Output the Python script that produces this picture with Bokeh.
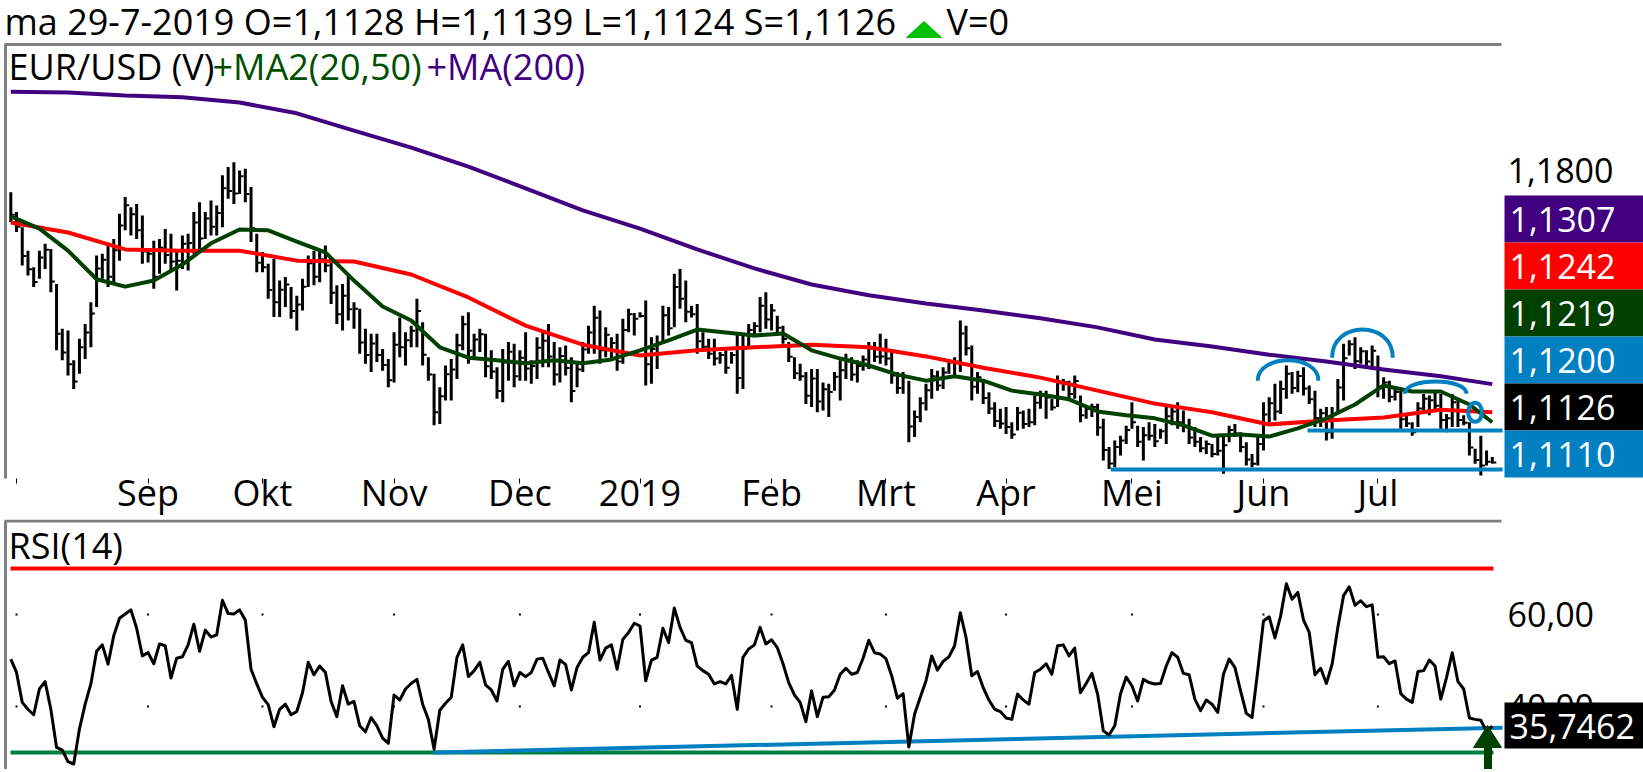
import pandas as pd
from bokeh.plotting import figure
from bokeh.layouts import column
from bokeh.models import Range1d, FixedTicker, ColumnDataSource
from bokeh.core.properties import value
from bokeh.embed import file_html
from bokeh.resources import INLINE

# ---------------- data ----------------
dates = pd.bdate_range("2018-07-31", "2019-07-29")   # 260 trading days (x axis)

high = [1.1750,1.1704,1.1669,1.1615,1.1577,1.1615,1.1631,1.1619,1.1538,1.1435,
        1.1431,1.1362,1.1412,1.1446,1.1496,1.1604,1.1608,1.1627,1.1642,1.1700,
        1.1739,1.1715,1.1723,1.1696,1.1615,1.1638,1.1642,1.1665,1.1654,1.1615,
        1.1650,1.1654,1.1704,1.1727,1.1704,1.1731,1.1719,1.1789,1.1808,1.1819,
        1.1800,1.1804,1.1762,1.1654,1.1612,1.1585,1.1596,1.1546,1.1554,1.1531,
        1.1511,1.1550,1.1604,1.1615,1.1612,1.1627,1.1596,1.1535,1.1538,1.1558,
        1.1496,1.1481,1.1435,1.1423,1.1423,1.1388,1.1365,1.1427,1.1461,1.1427,
        1.1442,1.1504,1.1450,1.1369,1.1331,1.1300,1.1350,1.1365,1.1423,1.1465,
        1.1473,1.1423,1.1435,1.1423,1.1385,1.1346,1.1388,1.1404,1.1400,1.1385,
        1.1427,1.1362,1.1415,1.1427,1.1446,1.1404,1.1392,1.1396,1.1369,1.1354,
        1.1404,1.1442,1.1488,1.1477,1.1438,1.1415,1.1423,1.1458,1.1481,1.1471,
        1.1473,1.1500,1.1415,1.1419,1.1488,1.1485,1.1562,1.1573,1.1546,1.1488,
        1.1492,1.1427,1.1412,1.1412,1.1381,1.1385,1.1381,1.1427,1.1419,1.1446,
        1.1450,1.1508,1.1519,1.1492,1.1465,1.1442,1.1404,1.1369,1.1354,1.1335,
        1.1342,1.1342,1.1311,1.1308,1.1335,1.1362,1.1377,1.1369,1.1362,1.1373,
        1.1404,1.1404,1.1423,1.1412,1.1385,1.1335,1.1335,1.1315,1.1246,1.1277,
        1.1308,1.1342,1.1338,1.1346,1.1365,1.1369,1.1454,1.1442,1.1396,1.1335,
        1.1315,1.1288,1.1265,1.1250,1.1254,1.1219,1.1254,1.1246,1.1250,1.1281,
        1.1292,1.1292,1.1273,1.1327,1.1319,1.1315,1.1327,1.1281,1.1258,1.1262,
        1.1262,1.1227,1.1162,1.1177,1.1188,1.1211,1.1265,1.1211,1.1208,1.1219,
        1.1215,1.1204,1.1254,1.1254,1.1265,1.1246,1.1227,1.1208,1.1185,1.1177,
        1.1169,1.1185,1.1188,1.1211,1.1215,1.1196,1.1173,1.1146,1.1185,1.1265,
        1.1277,1.1308,1.1315,1.1350,1.1335,1.1338,1.1346,1.1304,1.1292,1.1250,
        1.1254,1.1254,1.1319,1.1400,1.1408,1.1415,1.1392,1.1385,1.1396,1.1373,
        1.1323,1.1315,1.1296,1.1292,1.1238,1.1219,1.1265,1.1284,1.1281,1.1288,
        1.1284,1.1238,1.1284,1.1273,1.1235,1.1219,1.1158,1.1188,1.1154,1.1139]

low = [1.1681,1.1658,1.1581,1.1558,1.1531,1.1550,1.1573,1.1519,1.1385,1.1362,
       1.1327,1.1296,1.1331,1.1365,1.1392,1.1485,1.1550,1.1531,1.1538,1.1592,
       1.1662,1.1650,1.1642,1.1585,1.1588,1.1527,1.1562,1.1585,1.1569,1.1523,
       1.1573,1.1569,1.1608,1.1615,1.1642,1.1650,1.1650,1.1669,1.1735,1.1723,
       1.1746,1.1727,1.1635,1.1565,1.1565,1.1504,1.1462,1.1462,1.1485,1.1458,
       1.1431,1.1477,1.1531,1.1535,1.1542,1.1565,1.1492,1.1446,1.1431,1.1454,
       1.1435,1.1377,1.1354,1.1335,1.1358,1.1338,1.1300,1.1311,1.1369,1.1350,
       1.1392,1.1392,1.1350,1.1315,1.1212,1.1215,1.1269,1.1269,1.1319,1.1385,
       1.1354,1.1369,1.1381,1.1323,1.1319,1.1273,1.1265,1.1315,1.1300,1.1315,
       1.1315,1.1308,1.1319,1.1346,1.1346,1.1304,1.1311,1.1327,1.1265,1.1300,
       1.1335,1.1377,1.1377,1.1354,1.1369,1.1362,1.1338,1.1354,1.1427,1.1419,
       1.1461,1.1304,1.1308,1.1342,1.1400,1.1419,1.1438,1.1481,1.1450,1.1461,
       1.1377,1.1381,1.1365,1.1350,1.1354,1.1331,1.1354,1.1285,1.1296,1.1392,
       1.1415,1.1427,1.1435,1.1431,1.1427,1.1400,1.1358,1.1319,1.1315,1.1261,
       1.1254,1.1242,1.1246,1.1231,1.1292,1.1269,1.1319,1.1315,1.1311,1.1338,
       1.1342,1.1358,1.1354,1.1350,1.1308,1.1285,1.1285,1.1173,1.1185,1.1219,
       1.1246,1.1273,1.1292,1.1296,1.1331,1.1327,1.1335,1.1373,1.1269,1.1285,
       1.1261,1.1238,1.1208,1.1204,1.1192,1.1181,1.1200,1.1204,1.1208,1.1212,
       1.1250,1.1227,1.1246,1.1254,1.1292,1.1273,1.1273,1.1219,1.1227,1.1231,
       1.1188,1.1131,1.1111,1.1115,1.1142,1.1169,1.1204,1.1162,1.1131,1.1177,
       1.1162,1.1181,1.1169,1.1212,1.1204,1.1196,1.1169,1.1162,1.1150,1.1146,
       1.1138,1.1142,1.1100,1.1173,1.1185,1.1150,1.1119,1.1115,1.1119,1.1154,
       1.1219,1.1223,1.1238,1.1273,1.1285,1.1288,1.1281,1.1261,1.1208,1.1208,
       1.1177,1.1181,1.1238,1.1269,1.1373,1.1342,1.1354,1.1350,1.1346,1.1277,
       1.1273,1.1265,1.1269,1.1204,1.1208,1.1188,1.1208,1.1238,1.1235,1.1246,
       1.1204,1.1196,1.1208,1.1208,1.1212,1.1142,1.1123,1.1096,1.1119,1.1124]

close = [1.1698,1.1670,1.1603,1.1572,1.1543,1.1599,1.1617,1.1544,1.1423,1.1380,
         1.1353,1.1313,1.1392,1.1426,1.1470,1.1574,1.1594,1.1555,1.1616,1.1673,
         1.1720,1.1699,1.1662,1.1613,1.1608,1.1555,1.1622,1.1605,1.1590,1.1592,
         1.1631,1.1633,1.1680,1.1643,1.1689,1.1670,1.1702,1.1759,1.1753,1.1747,
         1.1787,1.1746,1.1667,1.1587,1.1577,1.1524,1.1496,1.1525,1.1537,1.1476,
         1.1491,1.1532,1.1586,1.1555,1.1595,1.1581,1.1518,1.1468,1.1511,1.1480,
         1.1481,1.1403,1.1374,1.1401,1.1374,1.1351,1.1316,1.1398,1.1392,1.1408,
         1.1430,1.1476,1.1375,1.1329,1.1242,1.1279,1.1330,1.1341,1.1397,1.1445,
         1.1384,1.1410,1.1422,1.1348,1.1336,1.1291,1.1357,1.1382,1.1325,1.1368,
         1.1343,1.1349,1.1391,1.1407,1.1371,1.1329,1.1372,1.1344,1.1291,1.1341,
         1.1387,1.1426,1.1460,1.1385,1.1421,1.1402,1.1359,1.1432,1.1468,1.1458,
         1.1464,1.1353,1.1388,1.1400,1.1466,1.1436,1.1531,1.1504,1.1474,1.1468,
         1.1406,1.1393,1.1377,1.1366,1.1374,1.1345,1.1374,1.1321,1.1388,1.1432,
         1.1441,1.1488,1.1456,1.1477,1.1437,1.1411,1.1370,1.1332,1.1325,1.1280,
         1.1320,1.1267,1.1295,1.1289,1.1324,1.1339,1.1363,1.1329,1.1349,1.1364,
         1.1389,1.1370,1.1371,1.1366,1.1327,1.1298,1.1323,1.1209,1.1231,1.1263,
         1.1293,1.1325,1.1304,1.1334,1.1357,1.1359,1.1424,1.1390,1.1301,1.1323,
         1.1275,1.1251,1.1222,1.1216,1.1208,1.1191,1.1241,1.1215,1.1219,1.1264,
         1.1282,1.1276,1.1253,1.1309,1.1312,1.1284,1.1314,1.1235,1.1250,1.1254,
         1.1207,1.1155,1.1124,1.1162,1.1177,1.1201,1.1219,1.1174,1.1189,1.1188,
         1.1175,1.1198,1.1233,1.1244,1.1219,1.1208,1.1184,1.1174,1.1159,1.1169,
         1.1146,1.1153,1.1166,1.1201,1.1193,1.1162,1.1133,1.1123,1.1169,1.1237,
         1.1263,1.1244,1.1296,1.1331,1.1298,1.1326,1.1297,1.1272,1.1229,1.1240,
         1.1196,1.1236,1.1299,1.1367,1.1399,1.1360,1.1383,1.1359,1.1384,1.1301,
         1.1311,1.1278,1.1289,1.1226,1.1216,1.1196,1.1251,1.1273,1.1270,1.1257,
         1.1224,1.1228,1.1265,1.1224,1.1218,1.1161,1.1132,1.1119,1.1128,1.1126]

rsi = [50.3,47.4,40.9,39.4,38.2,43.8,45.4,39.4,31.1,30.5,
       28.0,27.5,35.1,40.5,44.9,52.0,53.4,49.2,55.4,59.2,
       60.1,61.0,57.0,51.0,51.7,49.3,53.6,53.2,46.2,50.5,
       50.8,53.4,57.9,52.0,56.6,55.1,55.6,63.1,60.2,60.1,
       61.0,58.8,48.1,44.9,42.0,40.4,35.6,39.4,40.5,38.2,
       38.9,43.0,49.6,46.9,48.8,47.4,41.1,37.8,44.5,40.5,
       41.1,35.8,34.5,37.6,35.8,33.1,32.0,42.5,41.4,43.8,
       45.0,45.9,40.5,37.2,30.7,39.2,40.7,42.0,50.7,53.4,
       46.5,47.8,49.6,44.7,43.6,41.2,48.1,49.8,44.5,47.4,
       46.5,47.4,50.3,50.5,47.4,44.5,50.1,49.1,43.6,48.5,
       50.7,51.7,58.3,50.1,52.7,53.4,48.1,54.6,56.1,58.1,
       57.5,45.6,50.1,50.7,57.0,53.9,61.4,57.2,54.4,53.9,
       48.8,47.8,47.0,44.9,45.4,44.9,46.8,39.4,50.7,52.5,
       53.4,57.2,53.6,54.5,52.8,49.3,45.2,42.5,40.9,36.7,
       43.4,37.8,42.0,42.1,43.6,47.0,48.3,47.0,47.4,50.5,
       54.4,51.7,51.4,50.4,46.7,41.8,42.8,31.2,38.3,42.0,
       45.6,51.0,47.9,49.8,50.8,53.2,60.4,55.0,46.7,47.6,
       44.1,41.4,39.4,38.9,37.5,37.2,42.7,41.4,40.5,47.4,
       48.1,49.3,47.0,53.2,53.4,51.0,52.7,43.0,45.0,47.2,
       42.7,34.7,33.8,35.8,42.7,46.4,44.5,41.2,45.9,45.2,
       44.9,45.0,48.8,51.7,50.7,47.2,46.9,41.6,39.1,41.4,
       40.5,38.7,47.0,50.3,48.5,43.4,38.5,37.6,47.8,58.6,
       59.5,54.9,59.7,66.7,63.3,64.8,58.8,56.1,46.9,48.3,
       45.0,49.2,57.2,64.1,66.0,62.0,63.0,61.7,62.1,50.7,
       50.8,49.3,49.9,42.8,41.6,40.9,47.6,47.8,50.1,48.8,
       41.6,46.3,51.7,45.4,43.8,37.5,37.2,37.0,34.6,35.7462]

ma20_at = [0,5,10,15,20,25,30,35,40,45,50,55,60,65,70,75,80,85,90,95,100,105,110,115,120,125,
           130,135,140,145,150,155,160,165,170,175,180,185,190,195,200,205,210,215,220,225,230,
           235,240,245,250,255,259]
ma20 = [1.1694,1.1666,1.1615,1.1549,1.1532,1.1546,1.1583,1.1632,1.1664,1.1662,1.1636,1.1611,
        1.1546,1.1486,1.1454,1.1392,1.1368,1.1362,1.1355,1.1362,1.1355,1.1364,1.1385,1.1408,
        1.1433,1.1426,1.1419,1.1424,1.1385,1.1366,1.1350,1.1329,1.1315,1.1325,1.1315,1.1292,
        1.1283,1.1272,1.1244,1.1235,1.1228,1.1212,1.1188,1.1191,1.1186,1.1205,1.1228,1.1260,
        1.1304,1.1290,1.1290,1.1260,1.1219]

ma_at = [0,10,20,30,40,50,60,70,80,90,100,110,120,130,140,150,160,170,180,190,200,210,220,
         230,240,250,259]
ma50 = [1.1680,1.1657,1.1618,1.1615,1.1615,1.1592,1.1590,1.1560,1.1507,1.1442,1.1398,1.1373,
        1.1385,1.1392,1.1398,1.1392,1.1371,1.1345,1.1322,1.1292,1.1262,1.1242,1.1214,1.1223,
        1.1230,1.1248,1.1242]
ma200 = [1.1982,1.1980,1.1973,1.1969,1.1957,1.1932,1.1892,1.1853,1.1809,1.1759,1.1708,1.1666,
         1.1618,1.1574,1.1537,1.1512,1.1493,1.1477,1.1459,1.1438,1.1410,1.1394,1.1375,1.1359,
         1.1341,1.1325,1.1307]

month_labels = ["", "Sep", "Okt", "Nov", "Dec", "2019", "Feb", "Mrt", "Apr", "Mei", "Jun", "Jul"]

tag_values = [1.1307, 1.1242, 1.1219, 1.1200, 1.1126, 1.1110]
tag_colors = ["#400080", "#ff0000", "#004000", "#0080c0", "#000000", "#0080c0"]

# drawn support / resistance lines (price level, from bar, to bar)
hline_level = [1.1200, 1.1110]
hline_from = [226.7, 192.3]
hline_to = [260.8, 260.8]
# drawn arcs over the tops (from bar, to bar, base price, top price)
arc_from = [218.0, 231.0, 243.7]
arc_to = [228.6, 241.6, 254.5]
arc_base = [1.1315, 1.1368, 1.1285]
arc_top = [1.1362, 1.1433, 1.1313]
circle_at = [256.0]
circle_price = [1.1242]

rsi_high_level, rsi_low_level = 70, 30
rsi_trend_x = [74.0, 260.8]
rsi_trend_y = [30.0, 35.4]
rsi_last = 35.7462

# ---------------- layout helpers (pixels -> data) ----------------
FW = 1643
PH = 478            # price frame height
LABEL_STANDOFF = -16
R_START = 522       # where the RSI canvas begins (price canvas incl. its axis ends here)
RH = 772 - R_START
X_FIRST, PX_BAR = 10.3, 5.72
x_start = -X_FIRST / PX_BAR
x_end = (FW - X_FIRST) / PX_BAR
P_TOP, P_BOT = 1.21924, 1.10892
RSI_PX_60, RSI_PX_PER = 617.0, 4.6
R_TOPV = 60 + (RSI_PX_60 - R_START) / RSI_PX_PER
R_BOTV = 60 - (772 - RSI_PX_60) / RSI_PX_PER

def fx(px):
    return x_start + px / FW * (x_end - x_start)

def fpy(py):
    return P_TOP - py / PH * (P_TOP - P_BOT)

def fry(py):
    return R_TOPV - (py - R_START) / RH * (R_TOPV - R_BOTV)

FONT = "Open Sans"
FS = "36px"
FS_TAG = "34px"

def txt(fig, x, y, s, color="#000000", size=FS, align="left"):
    fig.text(x=[x], y=[y], text=[s], text_color=color, text_font=value(FONT),
             text_font_size=size, text_align=align, text_baseline="middle")

def fmt(v, nd=4):
    return f"{v:.{nd}f}".replace(".", ",")

idx = list(range(len(dates)))
months = dates.to_period("M")
month_ticks = [i for i in range(1, len(dates)) if months[i] != months[i - 1]]

# ---------------- price panel ----------------
p = figure(frame_width=FW, frame_height=PH, x_range=Range1d(x_start, x_end),
           y_range=Range1d(P_BOT, P_TOP), output_backend="svg", toolbar_location=None,
           y_axis_location=None, min_border_left=0, min_border_right=0, min_border_top=0,
           min_border_bottom=0, outline_line_color=None, background_fill_color="white",
           border_fill_color="white")
p.grid.visible = False
xa = p.xaxis[0]
xa.ticker = FixedTicker(ticks=month_ticks)
xa.major_label_overrides = {t: l for t, l in zip(month_ticks, month_labels)}
xa.axis_label = None
xa.axis_label_standoff = 0
xa.axis_line_color = None
xa.major_tick_in = 0
xa.major_tick_out = 5
xa.major_tick_line_color = "#000000"
xa.minor_tick_line_color = None
xa.major_label_standoff = LABEL_STANDOFF
xa.major_label_text_font = FONT
xa.major_label_text_font_size = FS
xa.major_label_text_color = "#000000"

# frame border (top + left)
p.segment(x0=[fx(4), fx(5)], y0=[fpy(44), fpy(44)], x1=[fx(1501), fx(5)], y1=[fpy(44), fpy(480)],
          line_color="#808080", line_width=3)

src = ColumnDataSource(dict(x=idx, xc=[i + 0.7 for i in idx], h=high, l=low, c=close))
p.segment(x0="x", y0="l", x1="x", y1="h", source=src, line_color="#000000", line_width=3)
p.segment(x0="x", y0="c", x1="xc", y1="c", source=src, line_color="#000000", line_width=2)

p.line(ma_at, ma200, line_color="#400080", line_width=4, line_join="round")
p.line(ma_at, ma50, line_color="#ff0000", line_width=4, line_join="round")
p.line(ma20_at, ma20, line_color="#004000", line_width=4, line_join="round")

# drawn annotations
p.segment(x0=hline_from, y0=hline_level, x1=hline_to, y1=hline_level, line_color="#0080c0", line_width=4)
cy = [b + 4.0 / 3.0 * (t - b) for b, t in zip(arc_base, arc_top)]
p.bezier(x0=arc_from, y0=arc_base, x1=arc_to, y1=arc_base, cx0=arc_from, cy0=cy, cx1=arc_to, cy1=cy,
         line_color="#0080c0", line_width=4)
p.ellipse(x=circle_at, y=circle_price, width=14, height=19, width_units="screen", height_units="screen",
          fill_color=None, line_color="#0080c0", line_width=4)

# texts
txt(p, fx(4), fpy(21), "ma 29-7-2019 O=1,1128 H=1,1139 L=1,1124 S=1,1126")
tx = [906, 941, 923.5]
ty = [37, 37, 21]
p.patch(x=[fx(a) for a in tx], y=[fpy(b) for b in ty], fill_color="#00c000", line_color="#00c000")
txt(p, fx(946), fpy(21), "V=0")
txt(p, fx(8), fpy(66), "EUR/USD (V)")
txt(p, fx(212), fpy(66), "+MA2(20,50)", color="#005000")
txt(p, fx(426), fpy(66), "+MA(200)", color="#400080")
txt(p, fx(1507), 1.18, "1,1800", size=FS_TAG)

tag_top = 195
tag_h = 47
for k, (v, c) in enumerate(zip(tag_values, tag_colors)):
    t = tag_top + k * tag_h
    p.quad(left=[fx(1504)], right=[fx(1650)], top=[fpy(t)], bottom=[fpy(t + tag_h)],
           fill_color=c, line_color=None)
    txt(p, fx(1509), fpy(t + tag_h / 2), fmt(v), color="#ffffff", size=FS_TAG)

# ---------------- RSI panel ----------------
r = figure(frame_width=FW, frame_height=RH, x_range=p.x_range, y_range=Range1d(R_BOTV, R_TOPV),
           output_backend="svg", toolbar_location=None, x_axis_location=None, y_axis_location=None,
           min_border_left=0, min_border_right=0, min_border_top=0, min_border_bottom=0,
           outline_line_color=None, background_fill_color="white", border_fill_color="white")
r.grid.visible = False

r.segment(x0=[fx(4), fx(5)], y0=[fry(R_START + 1.5), fry(R_START + 1.5)], x1=[fx(1501), fx(5)],
          y1=[fry(R_START + 1.5), fry(780)], line_color="#808080", line_width=3)
r.scatter(x=month_ticks * 2, y=[60] * len(month_ticks) + [40] * len(month_ticks), marker="square",
          size=2, fill_color="#000000", line_color=None)
r.segment(x0=[fx(10)], y0=[rsi_high_level], x1=[fx(1493)], y1=[rsi_high_level], line_color="#ff0000", line_width=4)
r.segment(x0=[fx(10)], y0=[rsi_low_level], x1=[fx(1493)], y1=[rsi_low_level], line_color="#008040", line_width=4)
r.line(rsi_trend_x, rsi_trend_y, line_color="#0080c0", line_width=4)
r.line(idx, rsi, line_color="#000000", line_width=3, line_join="round")

txt(r, fx(8), fry(548), "RSI(14)")
txt(r, fx(1507), 60, "60,00", size=FS_TAG)
txt(r, fx(1507), 40, "40,00", size=FS_TAG)
r.quad(left=[fx(1504)], right=[fx(1650)], top=[fry(705)], bottom=[fry(751)], fill_color="#000000", line_color=None)
txt(r, fx(1509), rsi_last, fmt(rsi_last), color="#ffffff", size=FS_TAG)

ax = [1487, 1501, 1491, 1491, 1484, 1484, 1473]
ay = [728, 750, 750, 790, 790, 750, 750]
r.patch(x=[fx(a) for a in ax], y=[fry(b) for b in ay], fill_color="#004000", line_color="#004000")

layout = column(p, r, spacing=0)
open("out.html", "w").write(file_html(layout, INLINE))
